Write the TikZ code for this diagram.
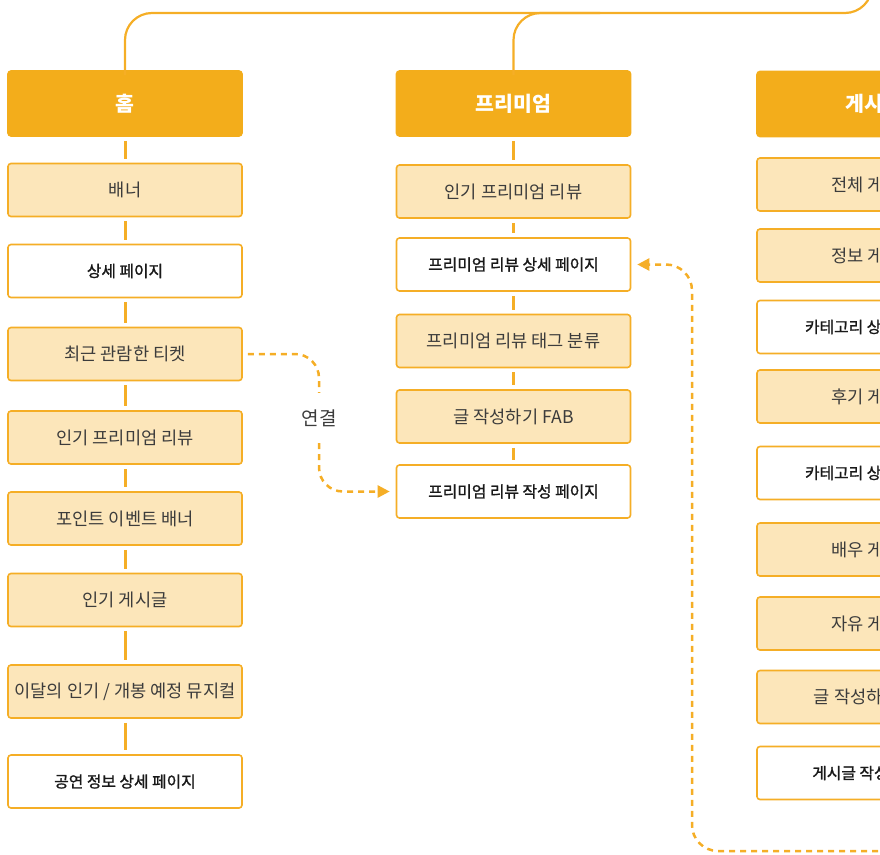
\documentclass[tikz,border=0pt]{standalone}
\usepackage{fontspec}
\setmainfont{Noto Sans CJK KR}
\newfontfamily\krmed{Noto Sans CJK KR}[FakeBold=1.3]
\usetikzlibrary{arrows.meta}
\definecolor{org}{HTML}{F3AD1B}
\definecolor{orgline}{HTML}{F5AE26}
\definecolor{pale}{HTML}{FCE6BA}
\definecolor{txt}{HTML}{3C3C3C}
\tikzset{
 box/.style={rectangle, rounded corners=3pt, draw=orgline, line width=1.6pt, minimum width=234pt, minimum height=53pt, inner sep=0pt, font=\fontsize{17.6}{20}\selectfont, text=txt},
 lightbox/.style={box, fill=pale},
 whitebox/.style={box, fill=white, text=black!90, font=\fontsize{15.8}{18}\selectfont\krmed},
 hdr/.style={box, fill=org, draw=org, text=white, minimum height=65pt, font=\fontsize{20.5}{23}\selectfont\bfseries},
 link/.style={draw=orgline, line width=3pt, shorten >=4pt, shorten <=4pt},
 tree/.style={draw=orgline, line width=2.2pt, rounded corners=27pt},
 dashconn/.style={draw=orgline, line width=2.5pt, dash pattern=on 6pt off 5pt},
 tip/.style={-{Triangle[length=12pt,width=12pt]}},
}
\begin{document}
\begin{tikzpicture}[x=1pt,y=-1pt]
\useasboundingbox (0,0) rectangle (880,854);
\clip (0,0) rectangle (880,854);
% left column
\node[hdr] (home) at (125,103.5) {홈};
\node[lightbox] (banner) at (125,190) {배너};
\node[whitebox] (detail) at (125,271) {상세 페이지};
\node[lightbox] (ticket) at (125,354) {최근 관람한 티켓};
\node[lightbox] (lpop) at (125,437.5) {인기 프리미엄 리뷰};
\node[lightbox] (point) at (125,518.5) {포인트 이벤트 배너};
\node[lightbox] (popular) at (125,600) {인기 게시글};
\node[lightbox] (month) at (125,691.5) {이달의 인기 / 개봉 예정 뮤지컬};
\node[whitebox] (perf) at (125,781.5) {공연 정보 상세 페이지};
% middle column
\node[hdr] (prem) at (513.5,103.5) {프리미엄};
\node[lightbox] (mpop) at (513.5,191.5) {인기 프리미엄 리뷰};
\node[whitebox] (mdetail) at (513.5,264.5) {프리미엄 리뷰 상세 페이지};
\node[lightbox] (tag) at (513.5,341) {프리미엄 리뷰 태그 분류};
\node[lightbox] (fab) at (513.5,416.5) {글 작성하기 FAB};
\node[whitebox] (mwrite) at (513.5,491.5) {프리미엄 리뷰 작성 페이지};
% right column
\node[hdr] (board) at (874,104) {게시판};
\node[lightbox] (rall) at (874,184.5) {전체 게시판};
\node[lightbox] (rinfo) at (874,255.5) {정보 게시판};
\node[whitebox] (rcat1) at (874,327) {카테고리 상세 페이지};
\node[lightbox] (rrev) at (874,396.5) {후기 게시판};
\node[whitebox] (rcat2) at (874,473) {카테고리 상세 페이지};
\node[lightbox] (ractor) at (874,549.5) {배우 게시판};
\node[lightbox] (rfree) at (874,623.5) {자유 게시판};
\node[lightbox] (rfab) at (874,697) {글 작성하기 FAB};
\node[whitebox] (rwrite) at (874,773) {게시글 작성 페이지};
% column links
\draw[link] (home) -- (banner);
\draw[link] (banner) -- (detail);
\draw[link] (detail) -- (ticket);
\draw[link] (ticket) -- (lpop);
\draw[link] (lpop) -- (point);
\draw[link] (point) -- (popular);
\draw[link] (popular) -- (month);
\draw[link] (month) -- (perf);
\draw[link] (prem) -- (mpop);
\draw[link] (mpop) -- (mdetail);
\draw[link] (mdetail) -- (tag);
\draw[link] (tag) -- (fab);
\draw[link] (fab) -- (mwrite);
% top tree
\coordinate (root) at (872,-40);
\coordinate (hmid) at (600,13);
\draw[tree] ([yshift=-5pt]home.north) |- (hmid) -| (root);
\draw[tree] ([yshift=-5pt]prem.north) |- (hmid);
% dashed link 1
\node[font=\fontsize{19}{22}\selectfont, text=txt, minimum height=50pt, inner sep=0pt] (lbl) at (319,418) {연결};
\draw[dashconn, rounded corners=24pt] ([xshift=5pt]ticket.east) -| (lbl.north);
\draw[dashconn, tip, rounded corners=24pt] (lbl.south) |- ([xshift=-6pt]mwrite.west);
% dashed link 2
\coordinate (src) at (900,851);
\coordinate (bend) at (692,851);
\draw[dashconn, tip, rounded corners=26pt] (src) -- (bend) |- ([xshift=6pt]mdetail.east);
\end{tikzpicture}
\end{document}
